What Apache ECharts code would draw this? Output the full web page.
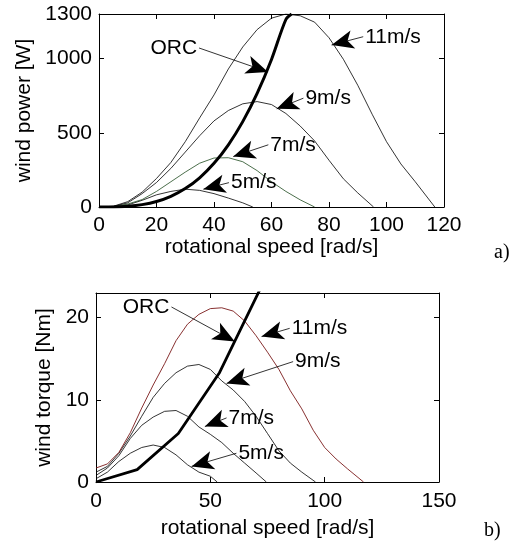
<!DOCTYPE html>
<html>
<head>
<meta charset="utf-8">
<script src="https://cdn.jsdelivr.net/npm/echarts@6/dist/echarts.min.js"></script>
<style>
html,body{margin:0;padding:0;background:#fff;}
#chart{width:519px;height:551px;}
</style>
</head>
<body>
<div id="chart"></div>
<script>
// ---- Panel a) wind power [W] vs rotational speed [rad/s] ----
const power5  = [[0,0],[5,2],[10,14],[15,45],[20,82],[25,105],[30,120],[35,112],[40,90],[45,60],[50,28],[53.5,0]];
const power7  = [[0,0],[5,3],[10,20],[15,50],[20,105],[25,170],[30,235],[35,295],[40,330],[45,332],[50,305],[55,245],[60,170],[65,105],[70,48],[75,0]];
const power9  = [[0,0],[5,4],[10,28],[15,90],[20,165],[25,260],[30,370],[35,480],[40,580],[45,650],[50,695],[55,710],[60,690],[65,630],[70,545],[75,445],[80,315],[85,190],[90,95],[95.5,0]];
const power11 = [[0,0],[5,5],[10,36],[15,100],[20,192],[25,300],[30,440],[35,600],[40,755],[45,930],[50,1078],[55,1195],[60,1272],[65,1300],[70,1288],[75,1245],[80,1140],[85,995],[90,820],[95,625],[100,440],[105,290],[110,170],[116.8,0]];
const powerORC = [[0,0],[5,0.6],[10,5],[15,16],[20,37],[25,72],[30,124],[35,197],[40,294],[45,419],[50,575],[55,765],[60,994],[65,1263],[67,1300]];

// ---- Panel b) wind torque [Nm] vs rotational speed [rad/s] ----
const torque5  = [[0,0.4],[5,1.2],[10,2.5],[15,3.5],[20,4.2],[25,4.5],[30,4.2],[35,3.3],[40,2.1],[45,1.2],[50,0.7],[53,0]];
const torque7  = [[0,0.8],[5,1.7],[10,3.2],[15,5.3],[20,6.9],[25,7.9],[30,8.6],[35,8.7],[40,8.0],[45,6.7],[50,5.8],[55,4.8],[60,3.5],[65,2.3],[70,1.1],[74.5,0]];
const torque9  = [[0,1.2],[5,1.9],[10,3.5],[15,5.6],[20,8.0],[25,10.3],[30,12.0],[35,13.3],[40,14.1],[45,14.3],[50,13.7],[55,12.3],[60,11.2],[65,9.8],[70,8.0],[75,5.9],[80,3.8],[85,2.3],[90,1.2],[96,0]];
const torque11 = [[0,1.7],[5,2.2],[10,3.6],[15,6.0],[20,9.0],[25,11.8],[30,14.4],[35,17.2],[40,19.2],[45,20.4],[50,21.1],[55,21.2],[60,20.8],[65,19.6],[70,17.8],[75,15.8],[80,13.7],[85,11.1],[90,8.9],[95,6.3],[100,4.2],[105,2.8],[110,1.6],[117,0]];
const torqueORC = [[0,0],[18,1.5],[36,5.9],[54,13.3],[72,23.6]];

// annotations: label text, arrow start (near label), arrow tip
const notesPower = [
  {text:'ORC',   from:[34.8,1071], to:[58.8,910], side:'left'},
  {text:'11m/s', from:[91.9,1147], to:[80.9,1091], side:'right'},
  {text:'9m/s',  from:[71.1,733],  to:[61.8,661], side:'right'},
  {text:'7m/s',  from:[58.9,419],  to:[46.7,340], side:'right'},
  {text:'5m/s',  from:[45.2,164],  to:[36.3,120], side:'right'}
];
const notesTorque = [
  {text:'ORC',   from:[33.0,21.3], to:[60.7,17.1], side:'left'},
  {text:'11m/s', from:[84.7,18.7], to:[72.4,17.7], side:'right'},
  {text:'9m/s',  from:[86.2,14.65],to:[57.1,12.0], side:'right'},
  {text:'7m/s',  from:[57.1,7.8],  to:[47.6,6.75], side:'right'},
  {text:'5m/s',  from:[61.4,3.5],  to:[41.8,1.9], side:'right'}
];

const FONT = 'Liberation Sans, Arial, sans-serif';
const FS = 21;

function axis(gridIndex, opts) {
  const main = opts.main;
  return {
    type: 'value',
    gridIndex: gridIndex,
    position: opts.position,
    min: opts.min, max: opts.max, interval: opts.interval,
    splitLine: {show: false},
    axisLine: {show: true, onZero: false, lineStyle: {color: '#000', width: 1}},
    axisTick: {show: true, inside: true, length: 5, lineStyle: {color: '#000', width: 1}},
    axisLabel: {show: main, color: '#000', fontFamily: FONT, fontSize: FS, margin: opts.margin || 7,
                showMaxLabel: opts.showMaxLabel !== false,
                formatter: function (v) { return String(v); }},
    name: main ? opts.name : '',
    nameLocation: 'middle',
    nameGap: opts.nameGap,
    nameTextStyle: {color: '#000', fontFamily: FONT, fontSize: FS}
  };
}

function curve(name, data, xi, yi, color, width, notes, smooth) {
  const s = {
    name: name, type: 'line', data: data, xAxisIndex: xi, yAxisIndex: yi,
    showSymbol: false, symbol: 'none', smooth: smooth || false,
    lineStyle: {color: color, width: width}, itemStyle: {color: color},
    clip: true, silent: true, animation: false
  };
  if (notes) {
    s.markLine = {
      silent: true, animation: false,
      symbol: ['none', 'arrow'], symbolSize: [14, 22],
      lineStyle: {color: '#000', width: 0.8, type: 'solid'},
      itemStyle: {color: '#000'},
      label: {show: false},
      emphasis: {disabled: true},
      data: [[{coord: notes.from}, {coord: notes.to}]]
    };
    s.markPoint = {
      silent: true, animation: false,
      symbol: 'circle', symbolSize: 0.01,
      data: [{
        coord: notes.from, value: notes.text,
        label: {show: true, position: notes.side, distance: 2, formatter: notes.text,
                color: '#000', fontFamily: FONT, fontSize: FS}
      }]
    };
  }
  return s;
}

const nP = Object.fromEntries(notesPower.map(n => [n.text, n]));
const nT = Object.fromEntries(notesTorque.map(n => [n.text, n]));

const chart = echarts.init(document.getElementById('chart'), null, {renderer: 'canvas'});
chart.setOption({
  backgroundColor: '#fff',
  animation: false,
  grid: [
    {left: 99, top: 14, width: 345, height: 193, containLabel: false},
    {left: 96, top: 293, width: 343, height: 189, containLabel: false}
  ],
  xAxis: [
    axis(0, {main: true, position: 'bottom', min: 0, max: 120, interval: 20, name: 'rotational speed [rad/s]', nameGap: 28, margin: 8}),
    axis(0, {main: false, position: 'top', min: 0, max: 120, interval: 20}),
    axis(1, {main: true, position: 'bottom', min: 0, max: 150, interval: 50, name: 'rotational speed [rad/s]', nameGap: 36, margin: 9}),
    axis(1, {main: false, position: 'top', min: 0, max: 150, interval: 50})
  ],
  yAxis: [
    axis(0, {main: true, position: 'left', min: 0, max: 1300, interval: 500, name: 'wind power [W]', nameGap: 52, margin: 7}),
    axis(0, {main: false, position: 'right', min: 0, max: 1300, interval: 500}),
    axis(1, {main: true, position: 'left', min: 0, max: 23, interval: 10, name: 'wind torque [Nm]', nameGap: 30, margin: 7, showMaxLabel: false}),
    axis(1, {main: false, position: 'right', min: 0, max: 23, interval: 10})
  ],
  graphic: [
    {type: 'text', left: 494, top: 243, style: {text: 'a)', fill: '#000', font: '20px "Liberation Serif", "Times New Roman", serif'}},
    {type: 'text', left: 484, top: 521, style: {text: 'b)', fill: '#000', font: '20px "Liberation Serif", "Times New Roman", serif'}}
  ],
  series: [
    curve('5m/s',  power5,  0, 0, '#000', 0.8, nP['5m/s']),
    curve('7m/s',  power7,  0, 0, '#1e4a1e', 0.8, nP['7m/s']),
    curve('9m/s',  power9,  0, 0, '#000', 0.8, nP['9m/s']),
    curve('11m/s', power11, 0, 0, '#000', 0.8, nP['11m/s']),
    curve('ORC',   powerORC, 0, 0, '#000', 3, nP['ORC'], 0.3),

    curve('5m/s',  torque5,  2, 2, '#000', 0.8, nT['5m/s']),
    curve('7m/s',  torque7,  2, 2, '#000', 0.8, nT['7m/s']),
    curve('9m/s',  torque9,  2, 2, '#000', 0.8, nT['9m/s']),
    curve('11m/s', torque11, 2, 2, '#7a1a1a', 0.9, nT['11m/s']),
    curve('ORC',   torqueORC, 2, 2, '#000', 2.8, nT['ORC'])
  ]
});
</script>
</body>
</html>
